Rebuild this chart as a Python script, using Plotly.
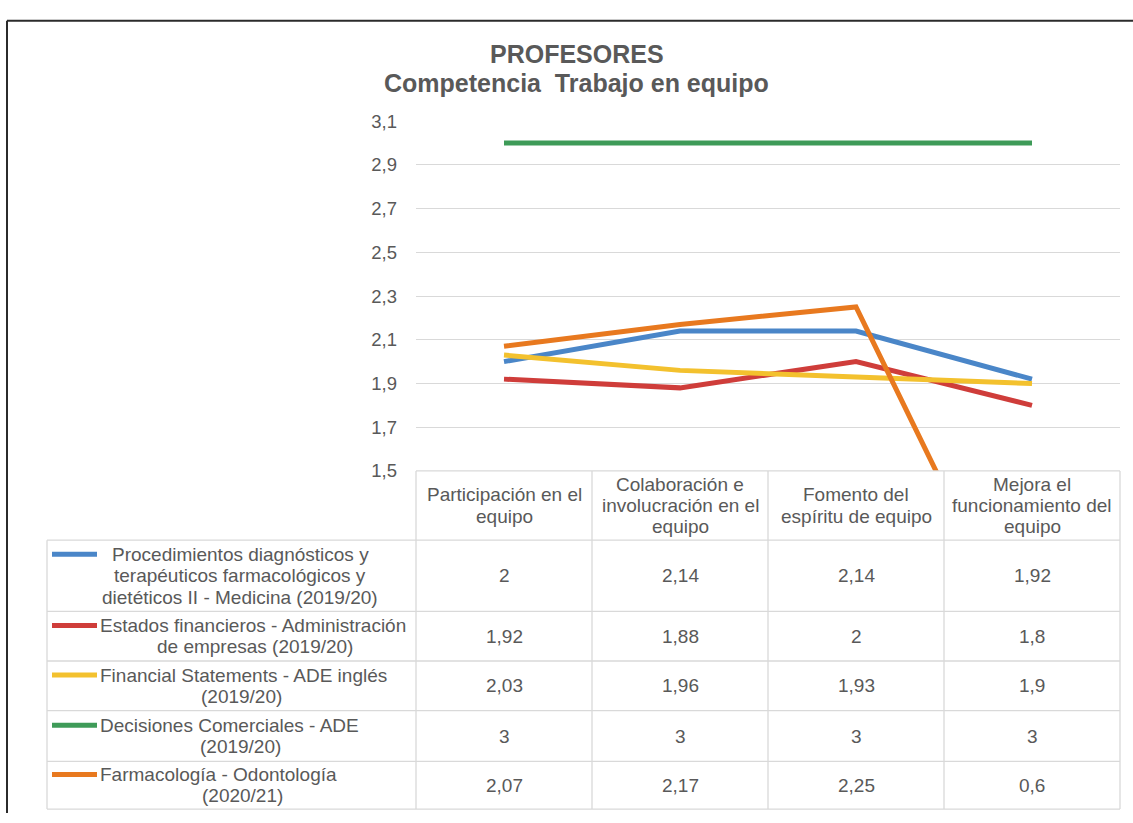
import plotly.graph_objects as go

W, H = 1133, 823

# ---------------- data ----------------
categories = [
    "Participación en el equipo",
    "Colaboración e involucración en el equipo",
    "Fomento del espíritu de equipo",
    "Mejora el funcionamiento del equipo",
]
header_label_lines = [
    ["Participación en el", "equipo"],
    ["Colaboración e", "involucración en el", "equipo"],
    ["Fomento del", "espíritu de equipo"],
    ["Mejora el", "funcionamiento del", "equipo"],
]
series_names = [
    "Procedimientos diagnósticos y terapéuticos farmacológicos y dietéticos II - Medicina (2019/20)",
    "Estados financieros - Administración de empresas (2019/20)",
    "Financial Statements - ADE inglés (2019/20)",
    "Decisiones Comerciales - ADE (2019/20)",
    "Farmacología - Odontología (2020/21)",
]
series_label_lines = [
    ["Procedimientos diagnósticos y", "terapéuticos farmacológicos y", "dietéticos II - Medicina (2019/20)"],
    ["Estados financieros - Administración", "de empresas (2019/20)"],
    ["Financial Statements - ADE inglés", "(2019/20)"],
    ["Decisiones Comerciales - ADE", "(2019/20)"],
    ["Farmacología - Odontología", "(2020/21)"],
]
medicina = [2, 2.14, 2.14, 1.92]
estados_financieros = [1.92, 1.88, 2, 1.8]
financial_statements = [2.03, 1.96, 1.93, 1.9]
decisiones_comerciales = [3, 3, 3, 3]
farmacologia = [2.07, 2.17, 2.25, 0.6]
series_values = [medicina, estados_financieros, financial_statements,
                 decisiones_comerciales, farmacologia]
title_lines = ["PROFESORES", "Competencia&nbsp; Trabajo en equipo"]

# ---------------- style ----------------
colors = ["#4a86c8", "#cf3d3a", "#f3c12e", "#3e9b58", "#e8791f"]
FONT = "Liberation Sans, Arial, sans-serif"
TXT = "#595959"
GRID = "#d9d9d9"
FS = 19
TICK_FS = 18.5
TITLE_FS = 25
LINE_GAP = 22


def px(x):
    return x / W


def py(y):
    return 1 - y / H


plot_left, plot_right = 416, 1120
plot_top, plot_bottom = 113, 472
table_left = 47
col_edges = [416, 592, 768, 944, 1120]
row_edges = [472, 543, 616, 667, 718, 770, 819]

fig = go.Figure()
for name, vals, c in zip(series_names, series_values, colors):
    fig.add_trace(go.Scatter(
        x=categories, y=vals, mode="lines", name=name,
        line=dict(color=c, width=5), showlegend=False,
        hoverinfo="skip",
    ))

shapes = []
annotations = []


def txt(x, y, t, xref="paper", xanchor="center", size=FS, bold=False):
    annotations.append(dict(
        x=x, xref=xref, y=py(y), yref="paper",
        text=("<b>%s</b>" % t) if bold else t,
        showarrow=False, xanchor=xanchor, yanchor="middle", align="center",
        font=dict(family=FONT, size=size, color=TXT)))


def line_ys(mid, n):
    return [mid + (k - (n - 1) / 2) * LINE_GAP for k in range(n)]


# outer frame (left and top)
frame = dict(color="#2b2b2b", width=2)
shapes.append(dict(type="line", xref="paper", yref="paper",
                   x0=px(7), y0=py(H), x1=px(7), y1=py(10), line=frame))
shapes.append(dict(type="line", xref="paper", yref="paper",
                   x0=px(7), y0=py(10), x1=px(W), y1=py(10), line=frame))

# table lines
tl = dict(color=GRID, width=1.3)
shapes.append(dict(type="line", xref="paper", yref="paper",
                   x0=px(col_edges[0]), x1=px(col_edges[-1]),
                   y0=py(row_edges[0]), y1=py(row_edges[0]), line=tl))
for ry in row_edges[1:]:
    shapes.append(dict(type="line", xref="paper", yref="paper",
                       x0=px(table_left), x1=px(col_edges[-1]),
                       y0=py(ry), y1=py(ry), line=tl))
for cx in col_edges:
    shapes.append(dict(type="line", xref="paper", yref="paper",
                       x0=px(cx), x1=px(cx),
                       y0=py(row_edges[0]), y1=py(row_edges[-1]), line=tl))
shapes.append(dict(type="line", xref="paper", yref="paper",
                   x0=px(table_left), x1=px(table_left),
                   y0=py(row_edges[1]), y1=py(row_edges[-1]), line=tl))

# header cells
hdr_mid = (row_edges[0] + row_edges[1]) / 2
for cat, lines in zip(categories, header_label_lines):
    for t, yy in zip(lines, line_ys(hdr_mid, len(lines))):
        txt(cat, yy, t, xref="x")


def fmt(v):
    return f"{v:g}".replace(".", ",")


cont_centers = [240, 255, 241, 240, 242]
for i, (lines, vals, c) in enumerate(zip(series_label_lines, series_values, colors)):
    top, bot = row_edges[i + 1], row_edges[i + 2]
    mid = (top + bot) / 2
    ys = line_ys(mid, len(lines))
    shapes.append(dict(type="line", xref="paper", yref="paper",
                       x0=px(52), x1=px(97), y0=py(ys[0]), y1=py(ys[0]),
                       line=dict(color=c, width=5)))
    for k, (t, yy) in enumerate(zip(lines, ys)):
        if k == 0 and i > 0:
            txt(px(98), yy, t, xanchor="left")
        else:
            txt(px(cont_centers[i]), yy, t)
    for cat, v in zip(categories, vals):
        txt(cat, mid, fmt(v), xref="x")

# title
txt(px(577), 44, title_lines[0], size=TITLE_FS, bold=True)
txt(px(577), 74, title_lines[1], size=TITLE_FS, bold=True)

fig.update_layout(
    width=W, height=H, autosize=False,
    margin=dict(l=0, r=0, t=0, b=0),
    paper_bgcolor="white", plot_bgcolor="white",
    separators=", ",
    shapes=shapes, annotations=annotations,
    xaxis=dict(type="category", range=[-0.5, 3.5],
               domain=[px(plot_left), px(plot_right)],
               showticklabels=False, showgrid=False, zeroline=False,
               showline=False, fixedrange=True),
    yaxis=dict(range=[1.5, 3.1], domain=[py(plot_bottom), py(plot_top)],
               tick0=1.5, dtick=0.2, tickformat=".1f",
               showgrid=True, gridcolor=GRID, gridwidth=1.3,
               zeroline=False, showline=False, ticks="",
               ticklabelstandoff=18,
               tickfont=dict(family=FONT, size=TICK_FS, color=TXT),
               fixedrange=True),
    showlegend=False,
)

fig.write_html("out.html", config={"displayModeBar": False},
               post_script="document.body.style.margin='0';document.body.style.overflow='hidden';")
